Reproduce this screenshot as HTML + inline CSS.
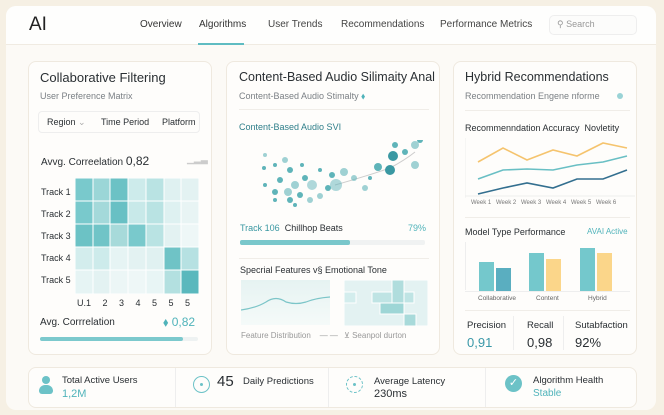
<!DOCTYPE html>
<html><head><style>
*{margin:0;padding:0;box-sizing:border-box}
body{width:664px;height:415px;background:#f6f0e4;font-family:"Liberation Sans",sans-serif;position:relative;overflow:hidden;color:#2a2f33}
.a{position:absolute;white-space:nowrap}
.card{position:absolute;background:#fefdfb;border:1px solid #efe9df;border-radius:8px}
.t{font-size:12.5px;color:#2a2f33}
.s{font-size:9px;color:#7b8085}
.teal{color:#4fb3ba}
.wk{position:absolute;top:200px;font-size:6px;color:#777}
</style></head><body>
<div class="a" style="left:6px;top:6px;width:650px;height:404px;background:#fcfaf6;border-radius:10px"></div>
<div class="a" style="left:6px;top:6px;width:650px;height:39px;background:#fefefd;border-radius:10px 10px 0 0;border-bottom:1px solid #f0ebe2"></div>
<div class="a" style="left:29px;top:14px;font-size:19px;color:#222">AI</div>
<div class="a" style="left:140px;top:19px;font-size:10px;color:#333">Overview</div>
<div class="a" style="left:199px;top:19px;font-size:10px;color:#333">Algorithms</div>
<div class="a" style="left:198px;top:43px;width:46px;height:2px;background:#5fbcc2"></div>
<div class="a" style="left:268px;top:19px;font-size:10px;color:#444">User Trends</div>
<div class="a" style="left:341px;top:19px;font-size:10px;color:#444">Recommendations</div>
<div class="a" style="left:440px;top:19px;font-size:10px;color:#444">Performance Metrics</div>
<div class="a" style="left:549px;top:15px;width:88px;height:20px;border:1px solid #eee;border-radius:5px;background:#fcfcfb"></div>
<div class="a" style="left:557px;top:19px;font-size:9px;color:#999">⚲ Search</div>

<!-- card1 -->
<div class="card" style="left:28px;top:61px;width:184px;height:294px"></div>
<div class="a t" style="left:40px;top:70px;font-size:13px">Collaborative Filtering</div>
<div class="a s" style="left:40px;top:91px">User Preference Matrix</div>
<div class="a" style="left:38px;top:111px;width:162px;height:22px;border:1px solid #eee;border-radius:4px"></div>
<div class="a" style="left:47px;top:117px;font-size:9px">Region <span style="color:#aaa">⌄</span></div>
<div class="a" style="left:101px;top:117px;font-size:9px">Time Period</div>
<div class="a" style="left:162px;top:117px;font-size:9px">Platform</div>
<div class="a" style="left:41px;top:154px;font-size:10px">Avvg. Correelation <span style="font-size:12px">0,82</span></div>
<div class="a" style="left:187px;top:154px;font-size:9px;color:#ccc">▁▂▃</div>
<svg class="a" style="left:75px;top:178px" width="124" height="116">
<g stroke="#fff" stroke-width="1">
<rect x="0" y="0" width="18" height="23" fill="#79c9cc"/><rect x="18" y="0" width="17" height="23" fill="#9bd6d7"/><rect x="35" y="0" width="18" height="23" fill="#6cc2c5"/><rect x="53" y="0" width="18" height="23" fill="#cdebeb"/><rect x="71" y="0" width="18" height="23" fill="#b9e3e3"/><rect x="89" y="0" width="17" height="23" fill="#dff1f1"/><rect x="106" y="0" width="18" height="23" fill="#e3f2f2"/>
<rect x="0" y="23" width="18" height="23" fill="#79c9cc"/><rect x="18" y="23" width="17" height="23" fill="#a4d9da"/><rect x="35" y="23" width="18" height="23" fill="#68c0c4"/><rect x="53" y="23" width="18" height="23" fill="#c8e9e9"/><rect x="71" y="23" width="18" height="23" fill="#b9e3e3"/><rect x="89" y="23" width="17" height="23" fill="#def1f1"/><rect x="106" y="23" width="18" height="23" fill="#e8f4f4"/>
<rect x="0" y="46" width="18" height="23" fill="#6cc2c5"/><rect x="18" y="46" width="17" height="23" fill="#70c4c7"/><rect x="35" y="46" width="18" height="23" fill="#a7dada"/><rect x="53" y="46" width="18" height="23" fill="#79c9cc"/><rect x="71" y="46" width="18" height="23" fill="#b9e3e3"/><rect x="89" y="46" width="17" height="23" fill="#e3f2f2"/><rect x="106" y="46" width="18" height="23" fill="#eef7f7"/>
<rect x="0" y="69" width="18" height="23" fill="#d3eded"/><rect x="18" y="69" width="17" height="23" fill="#cdebeb"/><rect x="35" y="69" width="18" height="23" fill="#e6f4f4"/><rect x="53" y="69" width="18" height="23" fill="#e3f2f2"/><rect x="71" y="69" width="18" height="23" fill="#e0f1f1"/><rect x="89" y="69" width="17" height="23" fill="#6fc3c6"/><rect x="106" y="69" width="18" height="23" fill="#b6e1e2"/>
<rect x="0" y="92" width="18" height="24" fill="#e6f4f4"/><rect x="18" y="92" width="17" height="24" fill="#e3f2f2"/><rect x="35" y="92" width="18" height="24" fill="#ecf6f6"/><rect x="53" y="92" width="18" height="24" fill="#eef7f7"/><rect x="71" y="92" width="18" height="24" fill="#e8f5f5"/><rect x="89" y="92" width="17" height="24" fill="#b3e0e0"/><rect x="106" y="92" width="18" height="24" fill="#5ab8bd"/>
</g></svg>
<div class="a" style="left:41px;top:187px;font-size:9px">Track 1</div>
<div class="a" style="left:41px;top:209px;font-size:9px">Track 2</div>
<div class="a" style="left:41px;top:231px;font-size:9px">Track 3</div>
<div class="a" style="left:41px;top:253px;font-size:9px">Track 4</div>
<div class="a" style="left:41px;top:275px;font-size:9px">Track 5</div>
<div class="a" style="left:77px;top:298px;font-size:9px;word-spacing:9px">U.1 2 3 4 5 5 5</div>
<div class="a" style="left:40px;top:317px;font-size:10px">Avg. Corrrelation</div>
<div class="a teal" style="left:163px;top:315px;font-size:12px">⬧ 0,82</div>
<div class="a" style="left:40px;top:337px;width:158px;height:4px;background:#eef2f2;border-radius:2px"><div style="width:143px;height:4px;background:#7cc9cd;border-radius:2px"></div></div>

<!-- card2 -->
<div class="card" style="left:226px;top:61px;width:214px;height:294px"></div>
<div class="a t" style="left:239px;top:70px">Content-Based Audio Silimaity Anal</div>
<div class="a s" style="left:239px;top:91px">Content-Based Audio Stimalty <span class="teal">⬧</span></div>
<div class="a" style="left:239px;top:109px;width:190px;height:1px;background:#f0ede8"></div>
<div class="a" style="left:239px;top:122px;font-size:9px;color:#2f7f8a">Content-Based Audio SVI</div>
<svg class="a" style="left:250px;top:140px" width="180" height="85">
<path d="M85 45 Q120 35 140 28 Q155 20 165 12" stroke="#ccc" fill="none"/>
<g fill="#5fb4b9">
<circle cx="15" cy="15" r="2" opacity=".6"/><circle cx="25" cy="25" r="2"/><circle cx="35" cy="20" r="3" opacity=".6"/><circle cx="40" cy="30" r="3"/><circle cx="30" cy="40" r="3"/><circle cx="45" cy="45" r="4" opacity=".6"/><circle cx="55" cy="38" r="3"/><circle cx="62" cy="45" r="5" opacity=".5"/><circle cx="50" cy="55" r="3"/><circle cx="60" cy="60" r="3" opacity=".6"/><circle cx="38" cy="52" r="4" opacity=".6"/><circle cx="25" cy="52" r="3"/><circle cx="15" cy="45" r="2"/><circle cx="45" cy="65" r="2"/><circle cx="70" cy="56" r="3" opacity=".6"/><circle cx="78" cy="48" r="3"/><circle cx="86" cy="45" r="6" opacity=".5"/><circle cx="94" cy="32" r="4" opacity=".6"/><circle cx="82" cy="35" r="3"/><circle cx="104" cy="38" r="3" opacity=".6"/><circle cx="115" cy="48" r="3" opacity=".6"/><circle cx="128" cy="27" r="4"/><circle cx="140" cy="30" r="5" fill="#3a98a2"/><circle cx="143" cy="16" r="5" fill="#3a98a2"/><circle cx="155" cy="12" r="3"/><circle cx="165" cy="5" r="4" opacity=".6"/><circle cx="165" cy="25" r="4" opacity=".6"/><circle cx="145" cy="5" r="3"/><circle cx="170" cy="0" r="3"/><circle cx="120" cy="38" r="2"/><circle cx="70" cy="30" r="2"/><circle cx="40" cy="60" r="3"/><circle cx="52" cy="25" r="2"/><circle cx="14" cy="28" r="2"/><circle cx="25" cy="60" r="2"/></g>
</svg>
<div class="a" style="left:240px;top:223px;font-size:9px"><span style="color:#3a98a2">Track 106</span> &nbsp;Chillhop Beats</div>
<div class="a teal" style="left:408px;top:223px;font-size:9px">79%</div>
<div class="a" style="left:240px;top:240px;width:185px;height:5px;background:#f0f2f2;border-radius:2px"><div style="width:110px;height:5px;background:#79c7cb;border-radius:2px"></div></div>
<div class="a" style="left:239px;top:258px;width:190px;height:1px;background:#f0ede8"></div>
<div class="a" style="left:240px;top:265px;font-size:9px">Specrial Features v§ Emotional Tone</div>
<div class="a" style="left:241px;top:280px;width:89px;height:45px;background:linear-gradient(#e6f3f2,#f5faf9)"></div>
<svg class="a" style="left:241px;top:280px" width="89" height="45"><path d="M0 30 Q15 28 25 22 Q35 15 45 22 Q55 25 65 22 Q75 18 89 17" stroke="#7cc5c8" fill="none" stroke-width="1.2"/></svg>
<svg class="a" style="left:344px;top:280px" width="84" height="46"><g stroke="#fff"><rect width="84" height="46" fill="#e3f2f2"/><rect x="28" y="12" width="42" height="11" fill="#bfe4e4"/><rect x="48" y="0" width="12" height="34" fill="#b0dddd"/><rect x="36" y="23" width="24" height="11" fill="#9ed6d6"/><rect x="60" y="34" width="12" height="12" fill="#a8dada"/><rect x="0" y="12" width="12" height="11" fill="#d3eded"/></g></svg>
<div class="a" style="left:241px;top:331px;font-size:8px;color:#999">Feature Distribution &nbsp;&nbsp; — —</div>
<div class="a" style="left:344px;top:331px;font-size:8px;color:#999">⊻ Seanpol durton</div>

<!-- card3 -->
<div class="card" style="left:453px;top:61px;width:184px;height:294px"></div>
<div class="a t" style="left:465px;top:70px">Hybrid Recommendations</div>
<div class="a s" style="left:465px;top:91px">Recommendation Engene nforme</div>
<div class="a" style="left:617px;top:93px;width:6px;height:6px;border-radius:50%;background:#9ad3d6"></div>
<div class="a" style="left:465px;top:110px;width:165px;height:1px;background:#f0ede8"></div>
<div class="a" style="left:465px;top:123px;font-size:9px">Recommenndation Accuracy &nbsp;Novletity</div>
<svg class="a" style="left:465px;top:138px" width="170" height="60">
<line x1="0" y1="0" x2="0" y2="60" stroke="#eee"/><line x1="0" y1="58" x2="170" y2="58" stroke="#eee"/>
<polyline points="13,24 38,10 62,22 88,12 112,18 138,5 162,10" stroke="#f5c46e" fill="none" stroke-width="1.6"/>
<polyline points="13,41 38,32 62,31 88,32 112,27 138,24 162,18" stroke="#69bfc4" fill="none" stroke-width="1.6"/>
<polyline points="13,56 38,50 62,45 88,50 112,41 138,41 162,32" stroke="#336f8f" fill="none" stroke-width="1.6"/>
</svg>
<div class="wk" style="left:471px">Week 1</div>
<div class="wk" style="left:496px">Week 2</div>
<div class="wk" style="left:521px">Week 3</div>
<div class="wk" style="left:546px">Week 4</div>
<div class="wk" style="left:571px">Week 5</div>
<div class="wk" style="left:596px">Week 6</div>
<div class="a" style="left:465px;top:217px;width:165px;height:1px;background:#f0ede8"></div>
<div class="a" style="left:465px;top:227px;font-size:9px">Model Type Performance</div>
<div class="a teal" style="left:587px;top:227px;font-size:8px">AVAI Active</div>
<div class="a" style="left:465px;top:242px;width:1px;height:48px;background:#eee"></div>
<div class="a" style="left:479px;top:262px;width:15px;height:29px;background:#74c8cc"></div>
<div class="a" style="left:496px;top:268px;width:15px;height:23px;background:#5aaec0"></div>
<div class="a" style="left:529px;top:253px;width:15px;height:38px;background:#74c8cc"></div>
<div class="a" style="left:546px;top:259px;width:15px;height:32px;background:#fbd68a"></div>
<div class="a" style="left:580px;top:248px;width:15px;height:43px;background:#74c8cc"></div>
<div class="a" style="left:597px;top:253px;width:15px;height:38px;background:#fbd68a"></div>
<div class="a" style="left:465px;top:291px;width:165px;height:1px;background:#eee"></div>
<div class="a" style="left:478px;top:295px;font-size:6.5px;color:#666">Collaborative</div>
<div class="a" style="left:536px;top:295px;font-size:6.5px;color:#666">Content</div>
<div class="a" style="left:588px;top:295px;font-size:6.5px;color:#666">Hybrid</div>
<div class="a" style="left:465px;top:310px;width:165px;height:1px;background:#f0ede8"></div>
<div class="a" style="left:467px;top:320px;font-size:9.5px">Precision</div>
<div class="a teal" style="left:467px;top:335px;font-size:13px;color:#3a98a8">0,91</div>
<div class="a" style="left:513px;top:316px;width:1px;height:34px;background:#eee"></div>
<div class="a" style="left:527px;top:320px;font-size:9.5px">Recall</div>
<div class="a" style="left:527px;top:335px;font-size:13px">0,98</div>
<div class="a" style="left:563px;top:316px;width:1px;height:34px;background:#eee"></div>
<div class="a" style="left:575px;top:320px;font-size:9.5px">Sutabfaction</div>
<div class="a" style="left:575px;top:335px;font-size:13px">92%</div>

<!-- bottom -->
<div class="card" style="left:28px;top:367px;width:609px;height:41px"></div>
<div class="a" style="left:175px;top:368px;width:1px;height:39px;background:#eee"></div>
<div class="a" style="left:328px;top:368px;width:1px;height:39px;background:#eee"></div>
<div class="a" style="left:485px;top:368px;width:1px;height:39px;background:#eee"></div>
<div class="a" style="left:42px;top:376px;width:8px;height:8px;border-radius:50%;background:#6cc2c7"></div>
<div class="a" style="left:39px;top:385px;width:14px;height:9px;border-radius:6px 6px 3px 3px;background:#6cc2c7"></div>
<div class="a" style="left:62px;top:375px;font-size:9.5px">Total Active Users</div>
<div class="a teal" style="left:62px;top:388px;font-size:11px">1,2M</div>
<div class="a" style="left:193px;top:376px;width:17px;height:17px;border:1.5px solid #6cc2c7;border-radius:50%"></div>
<div class="a" style="left:200px;top:383px;width:3px;height:3px;border-radius:50%;background:#6cc2c7"></div>
<div class="a" style="left:217px;top:373px;font-size:15px">45</div>
<div class="a" style="left:243px;top:376px;font-size:9.5px">Daily Predictions</div>
<div class="a" style="left:346px;top:376px;width:17px;height:17px;border:1.5px dashed #6cc2c7;border-radius:50%"></div>
<div class="a" style="left:353px;top:383px;width:3px;height:3px;border-radius:50%;background:#6cc2c7"></div>
<div class="a" style="left:374px;top:376px;font-size:9.5px">Average Latency</div>
<div class="a" style="left:374px;top:388px;font-size:11px">230ms</div>
<div class="a" style="left:505px;top:375px;width:17px;height:17px;border-radius:50%;background:#6cc2c7;color:#fff;font-size:11px;text-align:center;line-height:17px">✓</div>
<div class="a" style="left:533px;top:375px;font-size:9.5px">Algorithm Health</div>
<div class="a teal" style="left:533px;top:388px;font-size:10px">Stable</div>
</body></html>
